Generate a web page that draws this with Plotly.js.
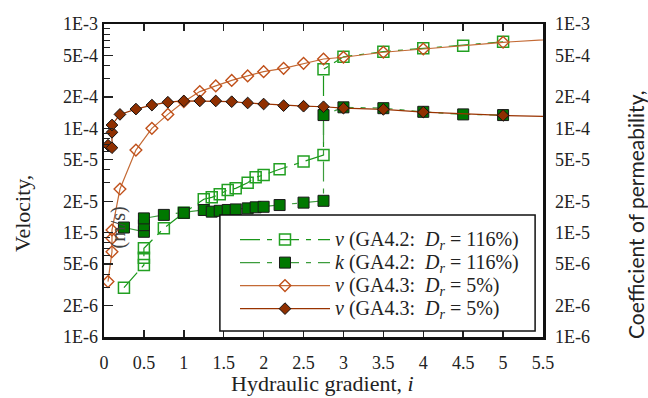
<!DOCTYPE html>
<html>
<head>
<meta charset="utf-8">
<script src="https://cdn.plot.ly/plotly-3.0.1.min.js"></script>
<style>html,body{margin:0;padding:0;background:#fff;} #chart{width:648px;height:398px;}</style>
</head>
<body>
<div id="chart"></div>
<script>
// GA4.2 velocity (open squares)
const ga42VX = [0.25, 0.5, 0.5, 0.5, 0.75, 1.0, 1.25, 1.35, 1.45, 1.55, 1.65, 1.8, 1.9, 2.0, 2.2, 2.5, 2.75, 2.75, 3.0, 3.5, 4.0, 4.5, 5.0];
const ga42VY = [2.97e-6, 4.9e-6, 5.76e-6, 7.08e-6, 1.10e-5, 1.55e-5, 2.09e-5, 2.18e-5, 2.33e-5, 2.57e-5, 2.66e-5, 3.01e-5, 3.40e-5, 3.57e-5, 4.05e-5, 4.81e-5, 5.55e-5, 3.68e-4, 4.85e-4, 5.43e-4, 5.85e-4, 6.2e-4, 6.76e-4];
// GA4.2 permeability (filled squares)
const ga42KX = [0.25, 0.5, 0.5, 0.5, 0.75, 1.0, 1.25, 1.35, 1.45, 1.55, 1.65, 1.8, 1.9, 2.0, 2.2, 2.5, 2.75, 2.75, 3.0, 3.5, 4.0, 4.5, 5.0];
const ga42KY = [1.12e-5, 1.02e-5, 1.18e-5, 1.37e-5, 1.48e-5, 1.55e-5, 1.65e-5, 1.59e-5, 1.62e-5, 1.65e-5, 1.67e-5, 1.71e-5, 1.75e-5, 1.77e-5, 1.84e-5, 1.94e-5, 2.02e-5, 1.34e-4, 1.59e-4, 1.56e-4, 1.44e-4, 1.36e-4, 1.34e-4];
// GA4.3 velocity (open diamonds)
const ga43VX = [0.05, 0.1, 0.1, 0.1, 0.2, 0.4, 0.6, 0.8, 1.0, 1.2, 1.4, 1.6, 1.8, 2.0, 2.25, 2.5, 2.75, 3.0, 3.5, 4.0, 5.0, 6.0];
const ga43VY = [3.4e-6, 6.56e-6, 8.83e-6, 1.06e-5, 2.62e-5, 6.19e-5, 1.0e-4, 1.36e-4, 1.8e-4, 2.25e-4, 2.55e-4, 2.88e-4, 3.18e-4, 3.49e-4, 3.76e-4, 4.2e-4, 4.62e-4, 4.8e-4, 5.36e-4, 5.76e-4, 6.68e-4, 7.4e-4];
// GA4.3 second series (filled diamonds)
const ga43KX = [0.05, 0.1, 0.1, 0.1, 0.2, 0.4, 0.6, 0.8, 1.0, 1.2, 1.4, 1.6, 1.8, 2.0, 2.25, 2.5, 2.75, 3.0, 3.5, 4.0, 5.0, 6.0];
const ga43KY = [6.9e-5, 6.52e-5, 9.16e-5, 1.076e-4, 1.36e-4, 1.53e-4, 1.67e-4, 1.78e-4, 1.83e-4, 1.83e-4, 1.83e-4, 1.80e-4, 1.75e-4, 1.71e-4, 1.65e-4, 1.63e-4, 1.61e-4, 1.56e-4, 1.52e-4, 1.43e-4, 1.33e-4, 1.27e-4];

const yTickVals = [1e-6, 2e-6, 5e-6, 1e-5, 2e-5, 5e-5, 1e-4, 2e-4, 5e-4, 1e-3];
const yTickText = ['1E-6', '2E-6', '5E-6', '1E-5', '2E-5', '5E-5', '1E-4', '2E-4', '5E-4', '1E-3'];
const yMinorVals = [3e-6, 4e-6, 6e-6, 7e-6, 8e-6, 9e-6, 3e-5, 4e-5, 6e-5, 7e-5, 8e-5, 9e-5, 3e-4, 4e-4, 6e-4, 7e-4, 8e-4, 9e-4];

const legendNames = [
  '<span style="font-size:20px"><i>v</i> (GA4.2:\u00a0 <i>D<sub>r</sub></i> = 116%)</span>',
  '<span style="font-size:20px"><i>k</i> (GA4.2:\u00a0 <i>D<sub>r</sub></i> = 116%)</span>',
  '<span style="font-size:20px"><i>v</i> (GA4.3:\u00a0 <i>D<sub>r</sub></i> = 5%)</span>',
  '<span style="font-size:20px"><i>v</i> (GA4.3:\u00a0 <i>D<sub>r</sub></i> = 5%)</span>'
];

const SERIF = 'Liberation Serif, serif';
const dashPat = '20px,7px,5px,7px';

const traces = [
  {x: ga42VX, y: ga42VY, name: legendNames[0], mode: 'lines+markers',
   line: {color: '#1a961a', width: 1.2, dash: dashPat},
   marker: {symbol: 'square-open', size: 11, color: '#22a022', line: {width: 1.5, color: '#22a022'}}},
  {x: ga42KX, y: ga42KY, name: legendNames[1], mode: 'lines+markers',
   line: {color: '#3c9c3c', width: 1.2, dash: dashPat},
   marker: {symbol: 'square', size: 11, color: '#007800', line: {width: 1, color: '#1a1a1a'}}},
  {x: ga43VX, y: ga43VY, name: legendNames[2], mode: 'lines+markers',
   line: {color: '#c46a35', width: 1.2},
   marker: {symbol: 'diamond-open', size: 9, color: '#c0501a', line: {width: 1.4, color: '#c0501a'}}},
  {x: ga43KX, y: ga43KY, name: legendNames[3], mode: 'lines+markers',
   line: {color: '#993300', width: 1.2},
   marker: {symbol: 'diamond', size: 9, color: '#8f2f00', line: {width: 1, color: '#111'}}},
  {x: [], y: [], yaxis: 'y2', showlegend: false, hoverinfo: 'skip'}
];

const layout = {
  width: 648, height: 398,
  margin: {l: 104, r: 105, t: 24, b: 61},
  paper_bgcolor: '#fff', plot_bgcolor: '#fff',
  font: {family: SERIF, size: 18, color: '#222'},
  showlegend: true,
  legend: {x: 0.2984, xanchor: 'left', y: 0.364, yanchor: 'top', bgcolor: 'rgba(0,0,0,0)', borderwidth: 0,
           font: {family: SERIF, size: 15.4, color: '#222'}, tracegroupgap: 0, itemwidth: 90},
  xaxis: {range: [0, 5.5], dtick: 0.5, tick0: 0, ticks: 'inside', ticklen: 7, tickwidth: 1.5, tickcolor: '#222',
          showline: true, linewidth: 2.5, linecolor: '#111', mirror: 'ticks', showgrid: false, zeroline: false,
          ticklabelstandoff: 8, tickfont: {family: SERIF, size: 18, color: '#222'}},
  yaxis: {type: 'log', range: [-6, -3], tickmode: 'array', tickvals: yTickVals, ticktext: yTickText,
          ticks: 'inside', ticklen: 9, tickwidth: 1.5, tickcolor: '#222',
          minor: {tickmode: 'array', tickvals: yMinorVals, ticks: 'inside', ticklen: 6, tickwidth: 1.2, tickcolor: '#222', showgrid: false},
          showline: true, linewidth: 2.5, linecolor: '#111', mirror: true, showgrid: false, zeroline: false,
          ticklabelstandoff: 0, tickfont: {family: SERIF, size: 18, color: '#222'}},
  yaxis2: {type: 'log', range: [-6, -3], overlaying: 'y', side: 'right', anchor: 'x', tickmode: 'array',
           tickvals: yTickVals, ticktext: yTickText, ticks: '', showline: false, showgrid: false, zeroline: false,
           ticklabelstandoff: 11, tickfont: {family: SERIF, size: 18, color: '#222'}},
  shapes: [
    {type: 'rect', xref: 'paper', yref: 'paper', x0: 0.264, x1: 0.982, y0: 0.019, y1: 0.39,
     line: {color: '#111', width: 1.5}, fillcolor: '#fff', layer: 'above'}
  ],
  annotations: [
    {text: 'Velocity,', xref: 'paper', yref: 'paper', x: -0.1868, y: 0.396, xanchor: 'center', yanchor: 'middle',
     textangle: -90, showarrow: false, font: {family: SERIF, size: 22, color: '#222'}},
    {text: '(m/s)', xref: 'paper', yref: 'paper', x: 0.032, y: 0.35, xanchor: 'center', yanchor: 'middle',
     textangle: -90, showarrow: false, font: {family: SERIF, size: 20, color: '#444'}},
    {text: 'Coefficient of permeability,', xref: 'paper', yref: 'paper', x: 1.212, y: 0.39, xanchor: 'center', yanchor: 'middle',
     textangle: -90, showarrow: false, font: {family: 'Lato, sans-serif', size: 21, color: '#222'}},
    {text: 'Hydraulic gradient, <i>i</i>', xref: 'paper', yref: 'paper', x: 0.4966, y: -0.149, xanchor: 'center', yanchor: 'middle',
     showarrow: false, font: {family: SERIF, size: 22, color: '#222'}}
  ]
};

Plotly.newPlot('chart', traces, layout, {displayModeBar: false, staticPlot: true});
</script>
</body>
</html>
